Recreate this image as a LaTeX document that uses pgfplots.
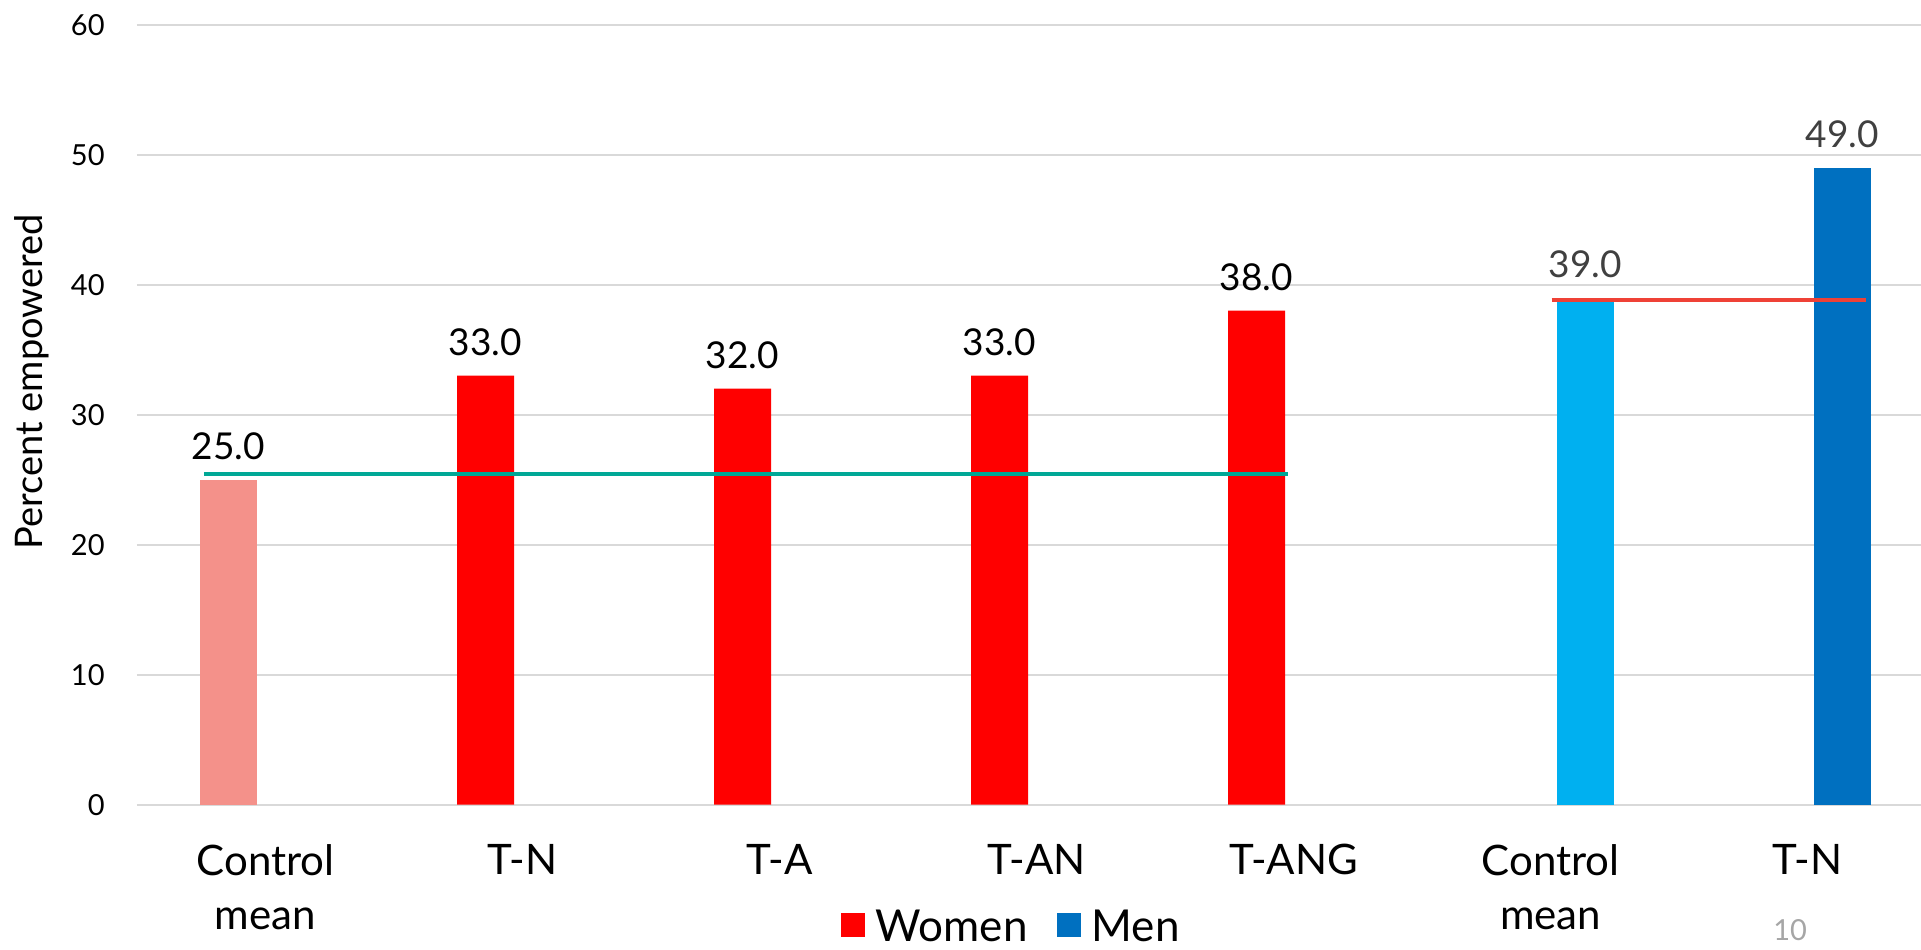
\documentclass[border=0pt]{standalone}
\usepackage{fontspec}
\setmainfont{Lato}
\usepackage{pgfplots}
\pgfplotsset{compat=1.18}

\definecolor{ctrlwomen}{HTML}{F4918A}
\definecolor{women}{HTML}{FF0000}
\definecolor{ctrlmen}{HTML}{00B0F0}
\definecolor{men}{HTML}{0070C0}
\definecolor{refwomen}{HTML}{00A896}
\definecolor{refmen}{HTML}{EF4136}
\definecolor{gridgray}{HTML}{D9D9D9}
\definecolor{labeldark}{HTML}{404040}
\definecolor{pagenum}{HTML}{A6A6A6}

\begin{document}
\begin{tikzpicture}
\pgfkeys{/pgf/number format/assume math mode=true}
\begin{axis}[
  scale only axis,
  width=891.8pt, height=390pt,
  xmin=-0.5, xmax=6.44, ymin=0, ymax=60,
  ytick={0,10,...,60},
  xtick={0,...,6},
  xticklabels={{Control\\mean},T-N,T-A,T-AN,T-ANG,{Control\\mean},T-N},
  ymajorgrids,
  grid style={gridgray, line width=1pt},
  axis line style={draw=none},
  major tick length=0pt,
  tick style={draw=none},
  xticklabel style={font=\fontsize{21}{27}\selectfont, align=center, anchor=north, inner sep=0pt},
  xticklabel shift=19.5pt,
  yticklabel style={font=\fontsize{14.5}{17}\selectfont, anchor=east, inner sep=0pt},
  yticklabel shift=16pt,
  ylabel={Percent empowered},
  ylabel style={font=\fontsize{19}{23}\selectfont, at={(axis description cs:-0.0589,0.542)}, anchor=center},
  clip=false,
  legend columns=2,
  legend style={draw=none, fill=none, at={(axis description cs:0.4895,-0.157)}, anchor=center,
    font=\fontsize{22}{26}\selectfont, inner sep=0pt, nodes={inner sep=0pt},
    /tikz/every odd column/.append style={column sep=5.5pt},
    /tikz/every even column/.append style={column sep=14.5pt}},
  every node near coord/.append style={font=\fontsize{18.5}{22}\selectfont, anchor=south, inner sep=0pt, yshift=10pt},
]
% women: control mean
\addplot[ybar, bar width=28.5pt, bar shift=-18.5pt, fill=ctrlwomen, draw=none, forget plot,
  every node near coord/.append style={xshift=-18.5pt},
  nodes near coords={\pgfmathprintnumber[fixed,fixed zerofill,precision=1]{\pgfplotspointmeta}}]
  coordinates {(0,25)};
% women: treatment arms
\addplot[ybar, bar width=28.5pt, bar shift=-18.5pt, fill=women, draw=none,
  legend image code/.code={\fill[women] (0pt,-5pt) rectangle (12pt,7pt);},
  every node near coord/.append style={xshift=-18.5pt},
  nodes near coords={\pgfmathprintnumber[fixed,fixed zerofill,precision=1]{\pgfplotspointmeta}}]
  coordinates {(1,33) (2,32) (3,33) (4,38)};
\addlegendentry{Women}
% men: control mean
\addplot[ybar, bar width=28.5pt, bar shift=17.5pt, fill=ctrlmen, draw=none, forget plot,
  every node near coord/.append style={text=labeldark, xshift=17.5pt},
  nodes near coords={\pgfmathprintnumber[fixed,fixed zerofill,precision=1]{\pgfplotspointmeta}}]
  coordinates {(5,39)};
% men: treatment
\addplot[ybar, bar width=28.5pt, bar shift=17.5pt, fill=men, draw=none,
  legend image code/.code={\fill[men] (0pt,-5pt) rectangle (12pt,7pt);},
  every node near coord/.append style={text=labeldark, xshift=17.5pt},
  nodes near coords={\pgfmathprintnumber[fixed,fixed zerofill,precision=1]{\pgfplotspointmeta}}]
  coordinates {(6,49)};
\addlegendentry{Men}
% reference lines at the control means
\addplot[refwomen, line width=2pt, forget plot] coordinates {(-0.24,25.45) (3.977,25.45)};
\addplot[refmen, line width=2pt, forget plot] coordinates {(5.004,38.8) (6.226,38.8)};
% slide number
\node[anchor=base, text=pagenum, font=\fontsize{14.5}{17}\selectfont, inner sep=0pt]
  at (axis description cs:0.9268,-0.1735) {10};
\end{axis}
\pgfresetboundingbox
\path (-68.5pt,-72.15pt) rectangle (892pt,402.35pt);
\end{tikzpicture}
\end{document}
